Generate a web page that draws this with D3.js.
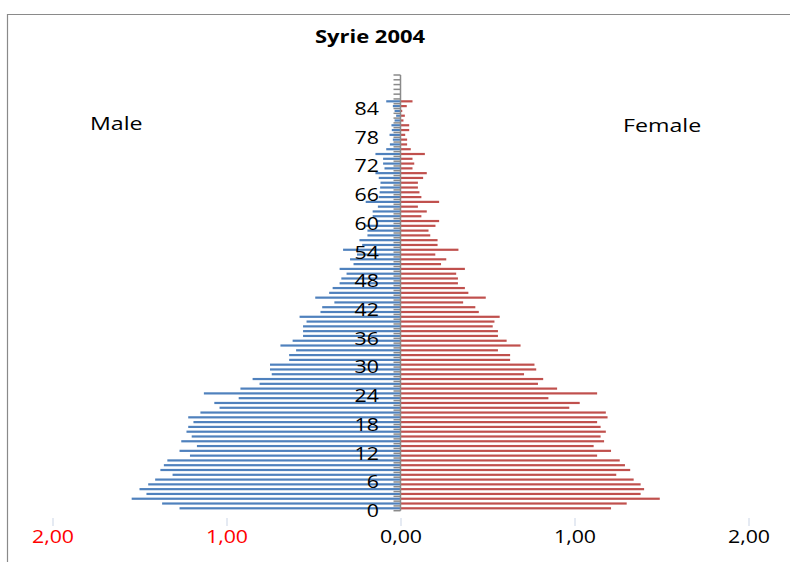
<!DOCTYPE html>
<html lang="en">
<head>
<meta charset="UTF-8">
<title>Syrie 2004</title>
<script src="https://cdnjs.cloudflare.com/ajax/libs/d3/7.8.5/d3.min.js"></script>
<style>
  body { margin: 0; background: #fff; }
  svg { display: block; }
</style>
</head>
<body>
<svg width="790" height="562"></svg>
<script>
    // age categories on the vertical axis (0 at bottom)
    const ages = d3.range(0, 91);
    const ageLabels = [0, 6, 12, 18, 24, 30, 36, 42, 48, 54, 60, 66, 72, 78, 84];
    const xTicks = [-2, -1, 0, 1, 2];

    // share of population in %, ages 0..85
    const male = [1.27, 1.37, 1.545, 1.46, 1.50, 1.45, 1.41, 1.31, 1.38, 1.36,
        1.34, 1.21, 1.27, 1.17, 1.26, 1.20, 1.23, 1.22, 1.19, 1.22,
        1.15, 1.04, 1.07, 0.93, 1.13, 0.92, 0.81, 0.85, 0.74, 0.75,
        0.75, 0.64, 0.64, 0.60, 0.69, 0.62, 0.56, 0.56, 0.56, 0.54,
        0.58, 0.46, 0.45, 0.38, 0.49, 0.41, 0.39, 0.35, 0.34, 0.31,
        0.35, 0.27, 0.29, 0.25, 0.33, 0.22, 0.236, 0.19, 0.19, 0.20,
        0.14, 0.16, 0.16, 0.13, 0.20, 0.125, 0.12, 0.117, 0.115, 0.125,
        0.144, 0.092, 0.10, 0.10, 0.144, 0.082, 0.061, 0.044, 0.063, 0.05,
        0.052, 0.034, 0.025, 0.034, 0.044, 0.082];
    const female = [1.21, 1.30, 1.49, 1.38, 1.40, 1.38, 1.34, 1.24, 1.32, 1.29,
        1.26, 1.13, 1.21, 1.11, 1.17, 1.15, 1.18, 1.15, 1.13, 1.19,
        1.18, 0.97, 1.03, 0.85, 1.13, 0.90, 0.79, 0.82, 0.71, 0.78,
        0.77, 0.63, 0.63, 0.56, 0.69, 0.61, 0.56, 0.56, 0.53, 0.54,
        0.57, 0.45, 0.43, 0.36, 0.49, 0.39, 0.37, 0.33, 0.33, 0.32,
        0.37, 0.233, 0.263, 0.20, 0.333, 0.213, 0.213, 0.171, 0.161, 0.201,
        0.222, 0.12, 0.151, 0.10, 0.222, 0.12, 0.109, 0.10, 0.10, 0.13,
        0.151, 0.069, 0.079, 0.069, 0.14, 0.059, 0.038, 0.038, 0.027, 0.05,
        0.05, 0.017, 0.025, 0.01, 0.036, 0.069];

    const svg = d3.select('svg');
    const FONT = "'Open Sans', sans-serif";
    const SX = 1.22; // the original picture is stretched sideways

    const x = d3.scaleLinear().domain([-2, 2]).range([52.5, 748.5]);
    const y = d3.scaleBand().domain(ages).range([510.7, 75]);
    const bw = y.bandwidth();
    const x0 = x(0);

    // chart frame (cut on right and bottom)
    svg.append('path')
        .attr('d', 'M7.5,562 V14.5 H790')
        .attr('fill', 'none')
        .attr('stroke', '#8a8a8a')
        .attr('stroke-width', 1.2);

    const stretchText = (sel, tx, ty) => sel
        .attr('transform', `translate(${tx},${ty}) scale(${SX},1)`)
        .attr('font-family', FONT);

    // title
    stretchText(svg.append('text'), 370, 43)
        .attr('text-anchor', 'middle')
        .attr('font-size', '18px')
        .attr('font-weight', 'bold')
        .text('Syrie 2004');

    stretchText(svg.append('text'), 90, 130)
        .attr('font-size', '19px')
        .text('Male');
    stretchText(svg.append('text'), 623, 132)
        .attr('font-size', '19px')
        .text('Female');

    // bars
    svg.append('g').selectAll('rect')
        .data(male)
        .join('rect')
        .attr('x', d => x(-d))
        .attr('width', d => x0 - x(-d))
        .attr('y', (d, i) => y(ages[i]) + bw / 2 - 1.1)
        .attr('height', 2.2)
        .attr('fill', '#4F81BD');

    svg.append('g').selectAll('rect')
        .data(female)
        .join('rect')
        .attr('x', x0)
        .attr('width', d => x(d) - x0)
        .attr('y', (d, i) => y(ages[i]) + bw / 2 - 1.1)
        .attr('height', 2.2)
        .attr('fill', '#C0504D');

    // category axis with boundary ticks
    const yAxis = svg.append('g');
    yAxis.append('line')
        .attr('x1', x0).attr('x2', x0)
        .attr('y1', y.range()[1]).attr('y2', y.range()[0])
        .attr('stroke', '#8a8a8a')
        .attr('stroke-width', 1.5);
    yAxis.selectAll('.tk')
        .data(ages.concat(['end']))
        .join('line')
        .attr('x1', x0 - 7).attr('x2', x0)
        .attr('y1', d => d === 'end' ? y(0) + bw : y(d))
        .attr('y2', d => d === 'end' ? y(0) + bw : y(d))
        .attr('stroke', '#8a8a8a')
        .attr('stroke-width', 1.5);

    yAxis.selectAll('.lbl')
        .data(ageLabels)
        .join('text')
        .each(function (d) {
            stretchText(d3.select(this), x0 - 21.5, y(d) + bw / 2 + 2.5);
        })
        .attr('text-anchor', 'end')
        .attr('dy', '0.36em')
        .attr('font-size', '17.5px')
        .attr('fill', '#000')
        .text(d => d);

    // value axis
    const fmt = d => d3.format('.2f')(Math.abs(d)).replace('.', ',');
    const xAxis = svg.append('g')
        .attr('transform', 'translate(0,518)')
        .call(d3.axisBottom(x).tickValues(xTicks).tickSize(8).tickPadding(5).tickFormat(fmt));
    xAxis.select('.domain').remove();
    xAxis.selectAll('.tick line').attr('stroke', '#cbd5e6');
    xAxis.selectAll('.tick text')
        .attr('transform', `scale(${SX},1)`)
        .attr('font-family', FONT)
        .attr('font-size', '17.5px')
        .attr('fill', d => d < 0 ? '#ff0000' : '#000');
</script>
</body>
</html>
